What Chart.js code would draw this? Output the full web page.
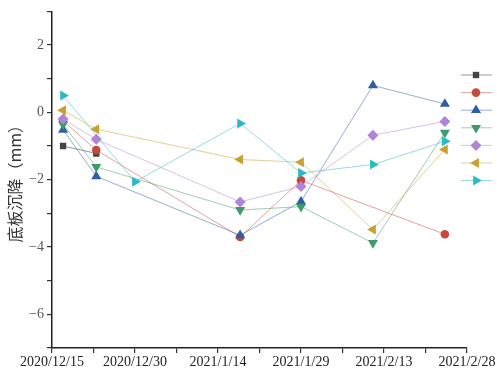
<!DOCTYPE html>
<html>
<head>
<meta charset="utf-8">
<script src="https://cdn.jsdelivr.net/npm/chart.js@4/dist/chart.umd.min.js"></script>
<style>
  html, body { margin: 0; padding: 0; background: #fff; }
  #wrap { width: 497px; height: 372px; }
</style>
</head>
<body>
<div id="wrap"><canvas id="myChart"></canvas></div>
<script>
// survey dates and settlement (mm) per monitoring point
const dates = ['2020/12/17', '2020/12/23', '2020/12/30', '2021/1/18', '2021/1/29', '2021/2/11', '2021/2/24'];
const seriesBlack  = [-1.0, -1.22, null, null, null, null, null];
const seriesRed    = [-0.25, -1.12, null, -3.7, -2.02, null, -3.62];
const seriesBlue   = [-0.52, -1.9, null, -3.65, -2.65, 0.8, 0.25];
const seriesGreen  = [-0.36, -1.62, null, -2.9, -2.8, -3.88, -0.6];
const seriesPurple = [-0.2, -0.8, null, -2.66, -2.2, -0.68, -0.27];
const seriesOrange = [0.06, -0.5, null, -1.4, -1.48, -3.48, -1.1];
const seriesCyan   = [0.5, null, -2.06, -0.33, -1.8, -1.55, -0.86];
const xTicks = ['2020/12/15', '2020/12/30', '2021/1/14', '2021/1/29', '2021/2/13', '2021/2/28'];
const yTicks = [2, 0, -2, -4, -6];

const startDay = Date.UTC(2020, 11, 15);
function dayOf(s) {
    const p = s.split('/').map(Number);
    return (Date.UTC(p[0], p[1] - 1, p[2]) - startDay) / 86400000;
}
const days = dates.map(dayOf);
const tickDays = xTicks.map(dayOf);

function makeSet(values, color, line, style, rot, size, order) {
    return {
        data: days.map((d, i) => ({x: d, y: values[i]})),
        borderColor: line,
        backgroundColor: color,
        pointBorderColor: color,
        pointBackgroundColor: color,
        borderWidth: 1,
        pointStyle: style,
        rotation: rot,
        pointRadius: size,
        pointBorderWidth: 0,
        spanGaps: true,
        tension: 0,
        order: order
    };
}

const datasets = [
    makeSet(seriesBlack, '#444444', 'rgba(70,70,70,0.55)', 'rect', 0, 4.5, 7),
    makeSet(seriesRed, '#c54a3b', 'rgba(197,74,59,0.5)', 'circle', 0, 4.3, 6),
    makeSet(seriesBlue, '#2f5ea6', 'rgba(47,94,166,0.5)', 'triangle', 0, 5.8, 5),
    makeSet(seriesGreen, '#3f9a70', 'rgba(63,154,112,0.5)', 'triangle', 180, 5.8, 4),
    makeSet(seriesPurple, '#b084d6', 'rgba(176,132,214,0.5)', 'rectRot', 0, 5.5, 3),
    makeSet(seriesOrange, '#c9a02c', 'rgba(201,160,44,0.5)', 'triangle', 270, 5.8, 2),
    makeSet(seriesCyan, '#2bb9c8', 'rgba(43,185,200,0.5)', 'triangle', 90, 5.8, 1)
];

const legendPlugin = {
    id: 'sideLegend',
    afterDraw(chart) {
        const ctx = chart.ctx;
        chart.data.datasets.forEach((ds, i) => {
            const y = 75 + i * 17.6;
            ctx.save();
            ctx.strokeStyle = ds.borderColor;
            ctx.lineWidth = 1;
            ctx.beginPath();
            ctx.moveTo(461, y);
            ctx.lineTo(492, y);
            ctx.stroke();
            ctx.fillStyle = ds.pointBackgroundColor;
            ctx.strokeStyle = ds.pointBackgroundColor;
            Chart.helpers.drawPoint(ctx, {
                pointStyle: ds.pointStyle,
                rotation: ds.rotation,
                radius: ds.pointRadius,
                borderWidth: 0
            }, 476, y);
            ctx.restore();
        });
    }
};

const config = {
    type: 'line',
    data: {datasets: datasets},
    options: {
        responsive: true,
        maintainAspectRatio: false,
        animation: false,
        layout: {
            padding: {top: 10, right: 30, left: 0, bottom: 0}
        },
        plugins: {
            legend: {display: false},
            tooltip: {enabled: false}
        },
        scales: {
            x: {
                type: 'linear',
                min: 0,
                max: 75,
                afterBuildTicks(scale) {
                    const t = [];
                    for (let v = 0; v <= 75; v += 7.5) t.push({value: v});
                    scale.ticks = t;
                },
                afterFit(scale) { scale.height = 24; },
                ticks: {
                    autoSkip: false,
                    maxRotation: 0,
                    padding: 1,
                    color: '#222',
                    font: {family: 'Liberation Serif', size: 14},
                    callback(v) {
                        const k = tickDays.indexOf(v);
                        return k >= 0 ? xTicks[k] : '';
                    }
                },
                grid: {
                    drawOnChartArea: false,
                    tickLength: 5,
                    color: '#333',
                    lineWidth: 1.2
                },
                border: {color: '#222', width: 1.5}
            },
            y: {
                min: -7,
                max: 3,
                afterBuildTicks(scale) {
                    const t = [];
                    for (let v = 3; v >= -7; v -= 1) t.push({value: v});
                    scale.ticks = t;
                },
                afterFit(scale) { scale.width = 52; },
                title: {
                    display: true,
                    text: '底板沉降（mm）',
                    color: '#333',
                    padding: {top: 5, bottom: 2},
                    font: {family: 'Noto Sans CJK SC', size: 16}
                },
                ticks: {
                    padding: 3,
                    color: '#555',
                    font: {family: 'Liberation Serif', size: 14},
                    callback(v) {
                        if (!yTicks.includes(v)) return '';
                        return v < 0 ? '\u2212' + Math.abs(v) : String(v);
                    }
                },
                grid: {
                    drawOnChartArea: false,
                    tickLength: 5,
                    color: '#333',
                    lineWidth: 1.2
                },
                border: {color: '#222', width: 1.5}
            }
        }
    },
    plugins: [legendPlugin]
};

const myChart = new Chart(document.getElementById('myChart'), config);
</script>
</body>
</html>
